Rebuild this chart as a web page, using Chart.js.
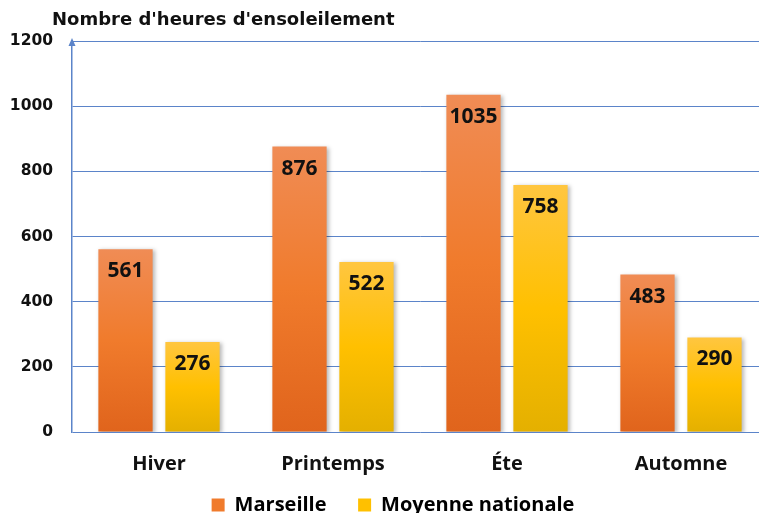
<!DOCTYPE html>
<html lang="fr">
<head>
<meta charset="utf-8">
<title>Nombre d'heures d'ensoleilement</title>
<script src="https://cdn.jsdelivr.net/npm/chart.js@4"></script>
<style>
  html, body { margin: 0; padding: 0; background: #fff; overflow: hidden; }
  #wrap { position: relative; width: 786px; height: 523px; }
</style>
</head>
<body>
<div id="wrap"><canvas id="chart"></canvas></div>
<script>
// Données
const SAISONS   = ['Hiver', 'Printemps', 'Éte', 'Automne'];
const MARSEILLE = [561, 876, 1035, 483];
const MOYENNE   = [276, 522, 758, 290];
const Y_MAX  = 1200;
const Y_STEP = 200;
const TITRE  = "Nombre d'heures d'ensoleilement";

const GRID = '#5B84C9';

// dégradé vertical par barre (haut plus clair)
function barGradient(top, mid, bottom) {
    return (c) => {
        if (c.type !== 'data') return mid;
        const { chart } = c;
        const area = chart.chartArea;
        if (!area) return mid;
        const y = chart.scales.y.getPixelForValue(c.raw);
        const g = chart.ctx.createLinearGradient(0, y, 0, area.bottom);
        g.addColorStop(0, top);
        g.addColorStop(0.5, mid);
        g.addColorStop(1, bottom);
        return g;
    };
}

const decor = {
    id: 'decor',
    beforeDatasetsDraw(chart) {
        const ctx = chart.ctx;
        ctx.save();
        ctx.shadowColor = 'rgba(0,0,0,0.28)';
        ctx.shadowBlur = 4;
        ctx.shadowOffsetX = 2;
        ctx.shadowOffsetY = 1;
    },
    afterDatasetsDraw(chart) {
        const ctx = chart.ctx;
        ctx.restore();
        const a = chart.chartArea;

        // flèche de l'axe vertical
        ctx.save();
        ctx.fillStyle = GRID;
        ctx.beginPath();
        ctx.moveTo(a.left, a.top - 3);
        ctx.lineTo(a.left - 3.5, a.top + 5);
        ctx.lineTo(a.left + 3.5, a.top + 5);
        ctx.closePath();
        ctx.fill();

        // titre
        ctx.fillStyle = '#111';
        ctx.font = 'bold 18px "DejaVu Sans"';
        ctx.textAlign = 'left';
        ctx.textBaseline = 'middle';
        ctx.fillText(TITRE, 52, 20);

        // valeurs dans les barres
        ctx.font = 'bold 21px "Open Sans"';
        ctx.textAlign = 'center';
        chart.data.datasets.forEach((ds, i) => {
            chart.getDatasetMeta(i).data.forEach((bar, j) => {
                ctx.fillText(String(ds.data[j]), bar.x, bar.y + 22);
            });
        });
        ctx.restore();
    }
};

new Chart(document.getElementById('chart'), {
    type: 'bar',
    data: {
        labels: SAISONS,
        datasets: [
            {
                label: 'Marseille',
                data: MARSEILLE,
                backgroundColor: barGradient('#F08C55', '#F07B2C', '#E0641C'),
                borderWidth: 0,
            },
            {
                label: 'Moyenne nationale',
                data: MOYENNE,
                backgroundColor: barGradient('#FFC640', '#FFC000', '#E4B000'),
                borderWidth: 0,
            },
        ],
    },
    options: {
        responsive: true,
        maintainAspectRatio: false,
        animation: false,
        layout: { padding: { top: 41, right: 0, left: 0, bottom: 0 } },
        categoryPercentage: 0.77,
        barPercentage: 0.81,
        plugins: {
            legend: {
                position: 'bottom',
                maxHeight: 44,
                labels: {
                    color: '#111',
                    font: { family: '"Open Sans"', size: 20, weight: 'bold' },
                    boxWidth: 13,
                    boxHeight: 13,
                    padding: 16,
                    generateLabels: (chart) => [
                        { text: 'Marseille   ', fillStyle: '#F07B2C', strokeStyle: '#F07B2C', lineWidth: 0, datasetIndex: 0 },
                        { text: 'Moyenne nationale', fillStyle: '#FFC000', strokeStyle: '#FFC000', lineWidth: 0, datasetIndex: 1 },
                    ],
                },
            },
            tooltip: { enabled: false },
        },
        scales: {
            x: {
                afterFit: (s) => { s.height = 47; },
                grid: { display: false, drawTicks: false },
                border: { display: false },
                ticks: {
                    color: '#111',
                    padding: 20,
                    font: { family: '"Open Sans"', size: 20, weight: 'bold' },
                },
            },
            y: {
                min: 0,
                max: Y_MAX,
                afterFit: (s) => { s.width = 72; },
                grid: { color: GRID, lineWidth: 1, drawTicks: false },
                border: { color: GRID, width: 1.5 },
                ticks: {
                    stepSize: Y_STEP,
                    color: '#111',
                    padding: 19,
                    callback: (v) => String(v),
                    font: { family: '"DejaVu Sans"', size: 15.5, weight: 'bold' },
                },
            },
            // marge à droite : le tracé dépasse la fenêtre comme dans l'original
            marge: {
                type: 'linear',
                position: 'right',
                afterFit: (s) => { s.width = 18; },
                grid: { display: false, drawTicks: false },
                border: { display: false },
                ticks: { display: false },
            },
        },
    },
    plugins: [decor],
});
</script>
</body>
</html>
